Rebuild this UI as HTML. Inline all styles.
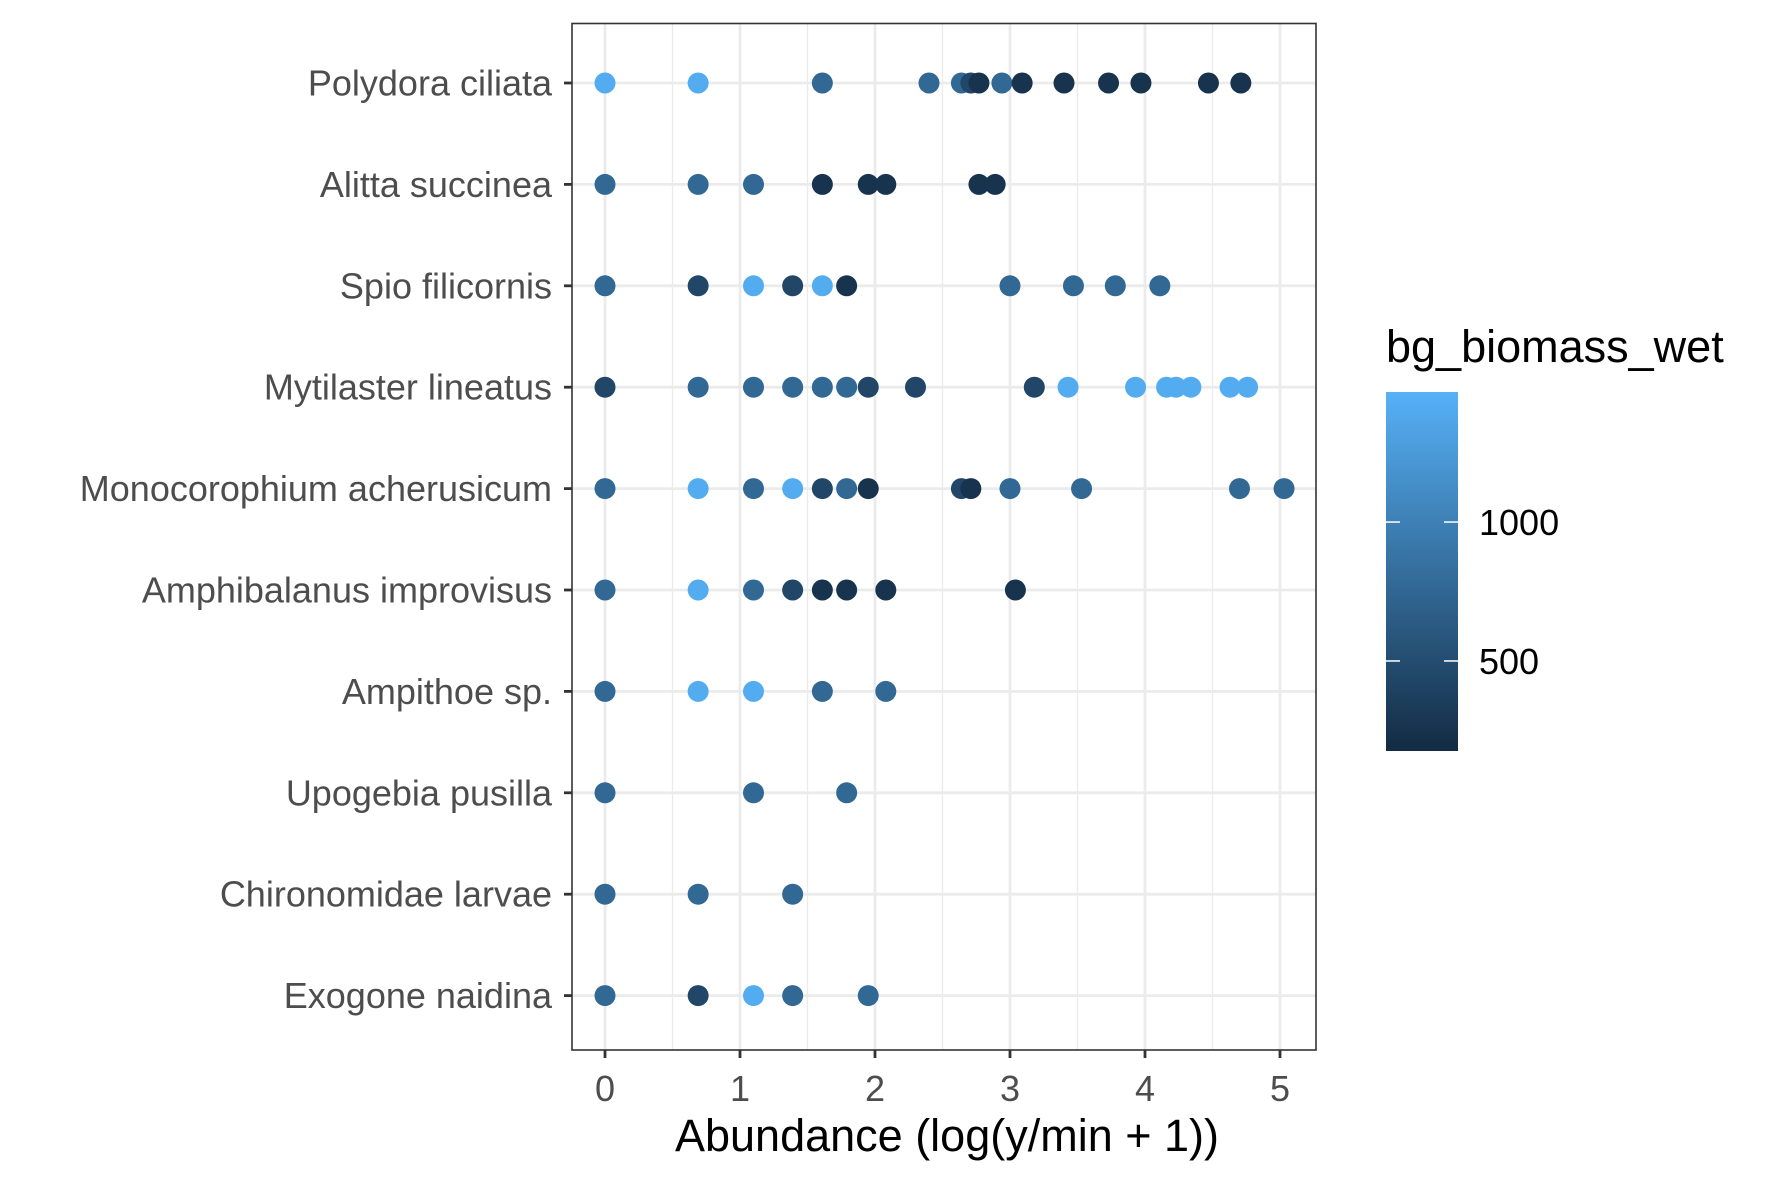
<!DOCTYPE html>
<html><head><meta charset="utf-8"><style>
body{margin:0;background:#fff}
svg{display:block;font-family:"Liberation Sans",Arial,sans-serif}
</style></head><body>
<svg id="chart" width="1771" height="1181" viewBox="0 0 1771 1181">
<defs><linearGradient id="cbar" x1="0" y1="1" x2="0" y2="0"><stop offset="0" stop-color="#132B43"/><stop offset="1" stop-color="#56B1F7"/></linearGradient></defs>
<g id="grid"></g>
<g id="points"></g>
<rect x="572" y="23.5" width="744" height="1026.5" fill="none" stroke="#333" stroke-width="1.6"/>
<g id="axes"></g>
<text x="947" y="1151" font-size="45" text-anchor="middle" fill="#000">Abundance (log(y/min + 1))</text>
<g>
<text x="1386" y="362" font-size="45" fill="#000">bg_biomass_wet</text>
<rect x="1386" y="392" width="72" height="359" fill="url(#cbar)"/>
<g id="legticks"></g>
</g>
</svg>
<script>
const species=["Polydora ciliata","Alitta succinea","Spio filicornis","Mytilaster lineatus","Monocorophium acherusicum","Amphibalanus improvisus","Ampithoe sp.","Upogebia pusilla","Chironomidae larvae","Exogone naidina"];
const xTicks=[0,1,2,3,4,5];
const legendTicks=[500,1000];
const L=1420,M=760,D=440,K=250;
const rowX=[
[0,0.69,1.61,2.4,2.64,2.71,2.77,2.94,3.09,3.4,3.73,3.97,4.47,4.71],
[0,0.69,1.1,1.61,1.95,2.08,2.77,2.89],
[0,0.69,1.1,1.39,1.61,1.79,3.0,3.47,3.78,4.11],
[0,0.69,1.1,1.39,1.61,1.79,1.95,2.3,3.18,3.43,3.93,4.16,4.23,4.34,4.63,4.76],
[0,0.69,1.1,1.39,1.61,1.79,1.95,2.64,2.71,3.0,3.53,4.7,5.03],
[0,0.69,1.1,1.39,1.61,1.79,2.08,3.04],
[0,0.69,1.1,1.61,2.08],
[0,1.1,1.79],
[0,0.69,1.39],
[0,0.69,1.1,1.39,1.95]];
const rowC=[
[L,L,M,M,M,D,K,M,K,K,K,K,K,K],
[M,M,M,K,K,K,K,K],
[M,D,L,D,L,K,M,M,M,M],
[D,M,M,M,M,M,D,D,D,L,L,L,L,L,L,L],
[M,L,M,L,D,M,K,D,K,M,M,M,M],
[M,L,M,D,K,K,K,K],
[M,L,L,M,M],
[M,M,M],
[M,M,M],
[M,D,L,M,M]];
const NS="http://www.w3.org/2000/svg";
const X=v=>605+v*135;
const Y=i=>83+i*101.4;
const cMin=176,cMax=1468;
const LY=v=>751-(v-cMin)/(cMax-cMin)*359;
function col(v){let t=Math.max(0,Math.min(1,(v-cMin)/(cMax-cMin)));const a=[0x13,0x2B,0x43],b=[0x56,0xB1,0xF7];return "rgb("+a.map((c,i)=>Math.round(c+(b[i]-c)*t)).join(",")+")";}
function mk(tag,attrs,parent){const e=document.createElementNS(NS,tag);for(const k in attrs)e.setAttribute(k,attrs[k]);parent.appendChild(e);return e;}
const grid=document.getElementById('grid'),pts=document.getElementById('points'),axes=document.getElementById('axes'),lt=document.getElementById('legticks');
[0.5,1.5,2.5,3.5,4.5].forEach(v=>{const g=mk('line',{x1:X(v),x2:X(v),y1:23.5,y2:1050,stroke:'#ebebeb','stroke-width':1.3},grid);

});
xTicks.forEach(v=>{const g=mk('line',{x1:X(v),x2:X(v),y1:23.5,y2:1050,stroke:'#ebebeb','stroke-width':2.8},grid);


const t=mk('line',{x1:X(v),x2:X(v),y1:1050,y2:1058,stroke:'#333','stroke-width':2.8},axes);


const l=mk('text',{x:X(v),y:1101,'font-size':36,'text-anchor':'middle',fill:'#4d4d4d'},axes);l.textContent=v;

});
species.forEach((s,i)=>{const g=mk('line',{x1:572,x2:1316,y1:Y(i),y2:Y(i),stroke:'#ebebeb','stroke-width':2.8},grid);


const t=mk('line',{x1:564,x2:572,y1:Y(i),y2:Y(i),stroke:'#333','stroke-width':2.8},axes);


const l=mk('text',{x:552,y:Y(i)+12.5,'font-size':36,'text-anchor':'end',fill:'#4d4d4d'},axes);l.textContent=s;


rowX[i].forEach((v,j)=>{const c=mk('circle',{cx:X(v),cy:Y(i),r:10.5,fill:col(rowC[i][j])},pts);

});});
legendTicks.forEach(v=>{const y=LY(v);
const a=mk('line',{x1:1386,x2:1400,y1:y,y2:y,stroke:'#fff','stroke-width':1.5},lt);


const b=mk('line',{x1:1444,x2:1458,y1:y,y2:y,stroke:'#fff','stroke-width':1.5},lt);


const l=mk('text',{x:1479,y:y+13,'font-size':36,fill:'#000'},lt);l.textContent=v;

});
</script>
</body></html>
